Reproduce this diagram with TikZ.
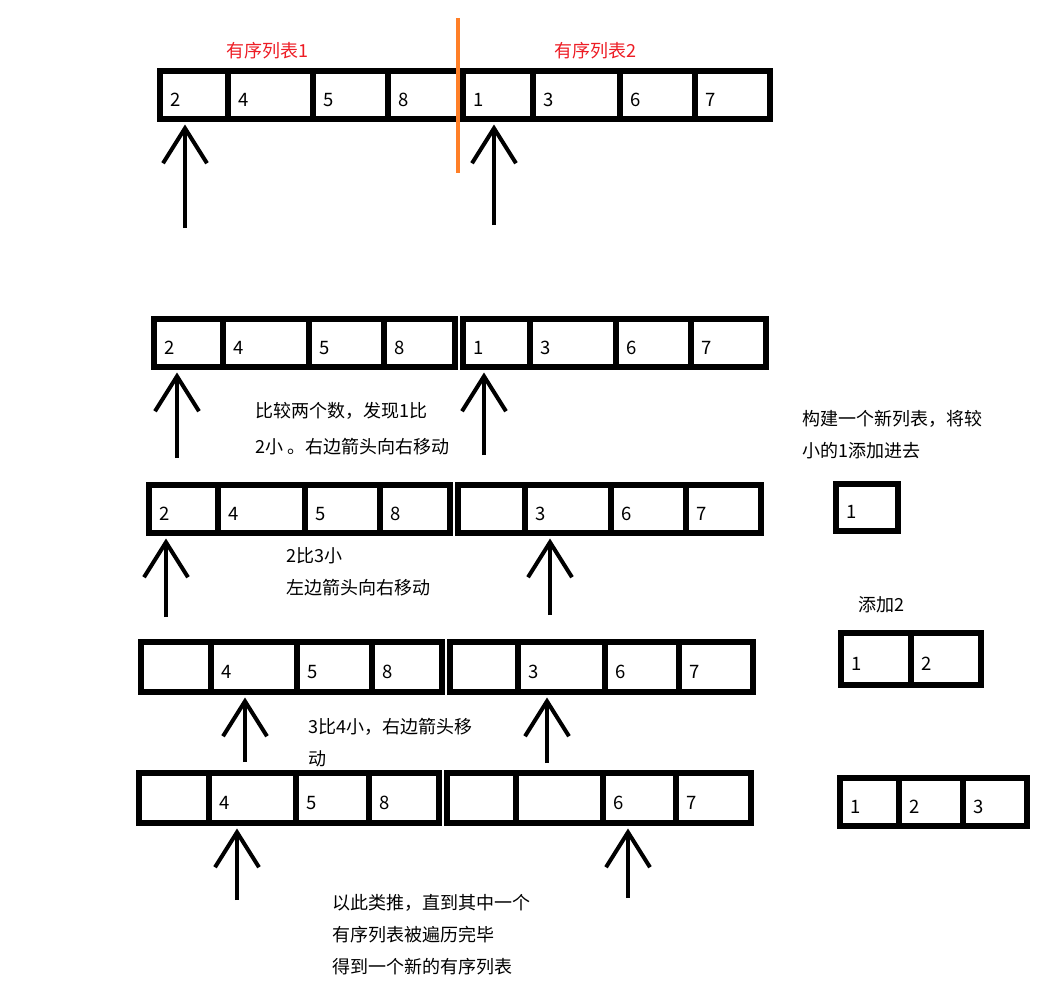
\documentclass[tikz,border=0pt]{standalone}
\usepackage{fontspec}
\setmainfont{Noto Sans CJK SC}
\usepackage{xcolor}
\usetikzlibrary{arrows.meta}

\definecolor{listred}{RGB}{237,28,36}
\definecolor{cutorange}{RGB}{255,127,39}

\begin{document}
\begin{tikzpicture}[x=1pt, y=-1pt,
    cell/.style={draw, line width=5.5pt, minimum height=48pt, inner sep=0pt, anchor=north west},
    num/.style={anchor=west, inner sep=0pt, xshift=13pt, yshift=-5pt, font=\fontsize{18.5}{18.5}\selectfont},
    note/.style={anchor=west, align=left, inner sep=0pt, font=\fontsize{18}{32}\selectfont},
    pointer/.style={line width=4pt, -{Straight Barb[length=35pt, width=44pt]}, shorten >=3pt}]
    \useasboundingbox (0,0) rectangle (1061,985);

    % the two sorted lists
    \node [listred, font=\fontsize{18}{18}\selectfont] (title1) at (267,51) {有序列表1};
    \node [listred, font=\fontsize{18}{18}\selectfont] (title2) at (595,51) {有序列表2};

    \node [cell, minimum width=68pt, label={[num]west:2}] (r1c1) at (157,68) {};
    \node [cell, minimum width=85pt, label={[num]west:4}] (r1c2) at (225,68) {};
    \node [cell, minimum width=75pt, label={[num]west:5}] (r1c3) at (310,68) {};
    \node [cell, minimum width=75pt, label={[num]west:8}] (r1c4) at (385,68) {};
    \node [cell, minimum width=70pt, label={[num]west:1}] (r1c5) at (460,68) {};
    \node [cell, minimum width=87pt, label={[num]west:3}] (r1c6) at (530,68) {};
    \node [cell, minimum width=75pt, label={[num]west:6}] (r1c7) at (617,68) {};
    \node [cell, minimum width=75pt, label={[num]west:7}] (r1c8) at (692,68) {};

    \draw [cutorange, line width=4pt] (458,18) -- (458,173);

    % step 1
    \node [cell, minimum width=69pt, label={[num]west:2}] (r2c1) at (151,316) {};
    \node [cell, minimum width=86pt, label={[num]west:4}] (r2c2) at (220,316) {};
    \node [cell, minimum width=75pt, label={[num]west:5}] (r2c3) at (306,316) {};
    \node [cell, minimum width=71pt, label={[num]west:8}] (r2c4) at (381,316) {};
    \node [cell, minimum width=67pt, label={[num]west:1}] (r2c5) at (460,316) {};
    \node [cell, minimum width=86pt, label={[num]west:3}] (r2c6) at (527,316) {};
    \node [cell, minimum width=75pt, label={[num]west:6}] (r2c7) at (613,316) {};
    \node [cell, minimum width=75pt, label={[num]west:7}] (r2c8) at (688,316) {};

    % step 2
    \node [cell, minimum width=69pt, label={[num]west:2}] (r3c1) at (146,482) {};
    \node [cell, minimum width=87pt, label={[num]west:4}] (r3c2) at (215,482) {};
    \node [cell, minimum width=75pt, label={[num]west:5}] (r3c3) at (302,482) {};
    \node [cell, minimum width=70pt, label={[num]west:8}] (r3c4) at (377,482) {};
    \node [cell, minimum width=67pt] (r3c5) at (455,482) {};
    \node [cell, minimum width=86pt, label={[num]west:3}] (r3c6) at (522,482) {};
    \node [cell, minimum width=75pt, label={[num]west:6}] (r3c7) at (608,482) {};
    \node [cell, minimum width=75pt, label={[num]west:7}] (r3c8) at (683,482) {};

    % step 3
    \node [cell, minimum width=70pt, minimum height=50pt] (r4c1) at (138,639) {};
    \node [cell, minimum width=86pt, minimum height=50pt, label={[num]west:4}] (r4c2) at (208,639) {};
    \node [cell, minimum width=75pt, minimum height=50pt, label={[num]west:5}] (r4c3) at (294,639) {};
    \node [cell, minimum width=70pt, minimum height=50pt, label={[num]west:8}] (r4c4) at (369,639) {};
    \node [cell, minimum width=68pt, minimum height=50pt] (r4c5) at (447,639) {};
    \node [cell, minimum width=87pt, minimum height=50pt, label={[num]west:3}] (r4c6) at (515,639) {};
    \node [cell, minimum width=74pt, minimum height=50pt, label={[num]west:6}] (r4c7) at (602,639) {};
    \node [cell, minimum width=74pt, minimum height=50pt, label={[num]west:7}] (r4c8) at (676,639) {};

    % step 4
    \node [cell, minimum width=70pt, minimum height=50pt] (r5c1) at (136,770) {};
    \node [cell, minimum width=87pt, minimum height=50pt, label={[num]west:4}] (r5c2) at (206,770) {};
    \node [cell, minimum width=73pt, minimum height=50pt, label={[num]west:5}] (r5c3) at (293,770) {};
    \node [cell, minimum width=70pt, minimum height=50pt, label={[num]west:8}] (r5c4) at (366,770) {};
    \node [cell, minimum width=69pt, minimum height=50pt] (r5c5) at (444,770) {};
    \node [cell, minimum width=87pt, minimum height=50pt] (r5c6) at (513,770) {};
    \node [cell, minimum width=73pt, minimum height=50pt, label={[num]west:6}] (r5c7) at (600,770) {};
    \node [cell, minimum width=75pt, minimum height=50pt, label={[num]west:7}] (r5c8) at (673,770) {};

    % pointers
    \coordinate (p1l) at (185,228);
    \coordinate (p1r) at (494,225);
    \coordinate (p2l) at (177,458);
    \coordinate (p2r) at (484,455);
    \coordinate (p3l) at (166,617);
    \coordinate (p3r) at (550,615);
    \coordinate (p4l) at (245,762);
    \coordinate (p4r) at (547,763);
    \coordinate (p5l) at (237,900);
    \coordinate (p5r) at (628,898);
    \draw [pointer] (p1l) -- (p1l |- r1c1.south);
    \draw [pointer] (p1r) -- (p1r |- r1c5.south);
    \draw [pointer] (p2l) -- (p2l |- r2c1.south);
    \draw [pointer] (p2r) -- (p2r |- r2c5.south);
    \draw [pointer] (p3l) -- (p3l |- r3c1.south);
    \draw [pointer] (p3r) -- (p3r |- r3c6.south);
    \draw [pointer] (p4l) -- (p4l |- r4c2.south);
    \draw [pointer] (p4r) -- (p4r |- r4c6.south);
    \draw [pointer] (p5l) -- (p5l |- r5c2.south);
    \draw [pointer] (p5r) -- (p5r |- r5c7.south);

    % notes
    \node [note] (cmp1) at (255,429) {比较两个数，发现1比\\[4pt]2小 。右边箭头向右移动};
    \node [note] (cmp2) at (286,572) {2比3小\\左边箭头向右移动};
    \node [note] (cmp3) at (308,743) {3比4小，右边箭头移\\动};
    \node [note] (ending) at (332,935) {以此类推，直到其中一个\\有序列表被遍历完毕\\得到一个新的有序列表};

    % the new list
    \node [note] (newlist) at (802,435) {构建一个新列表，将较\\小的1添加进去};
    \node [cell, minimum width=62pt, minimum height=47pt, label={[num]west:1}] (n1c1) at (833,481) {};

    \node [note] (add2) at (858,605) {添加2};
    \node [cell, minimum width=70pt, minimum height=52pt, label={[num]west:1}] (n2c1) at (838,630) {};
    \node [cell, minimum width=70pt, minimum height=52pt, label={[num]west:2}] (n2c2) at (908,630) {};

    \node [cell, minimum width=59pt, label={[num]west:1}] (n3c1) at (837,775) {};
    \node [cell, minimum width=64pt, label={[num]west:2}] (n3c2) at (896,775) {};
    \node [cell, minimum width=64pt, label={[num]west:3}] (n3c3) at (960,775) {};
\end{tikzpicture}
\end{document}
